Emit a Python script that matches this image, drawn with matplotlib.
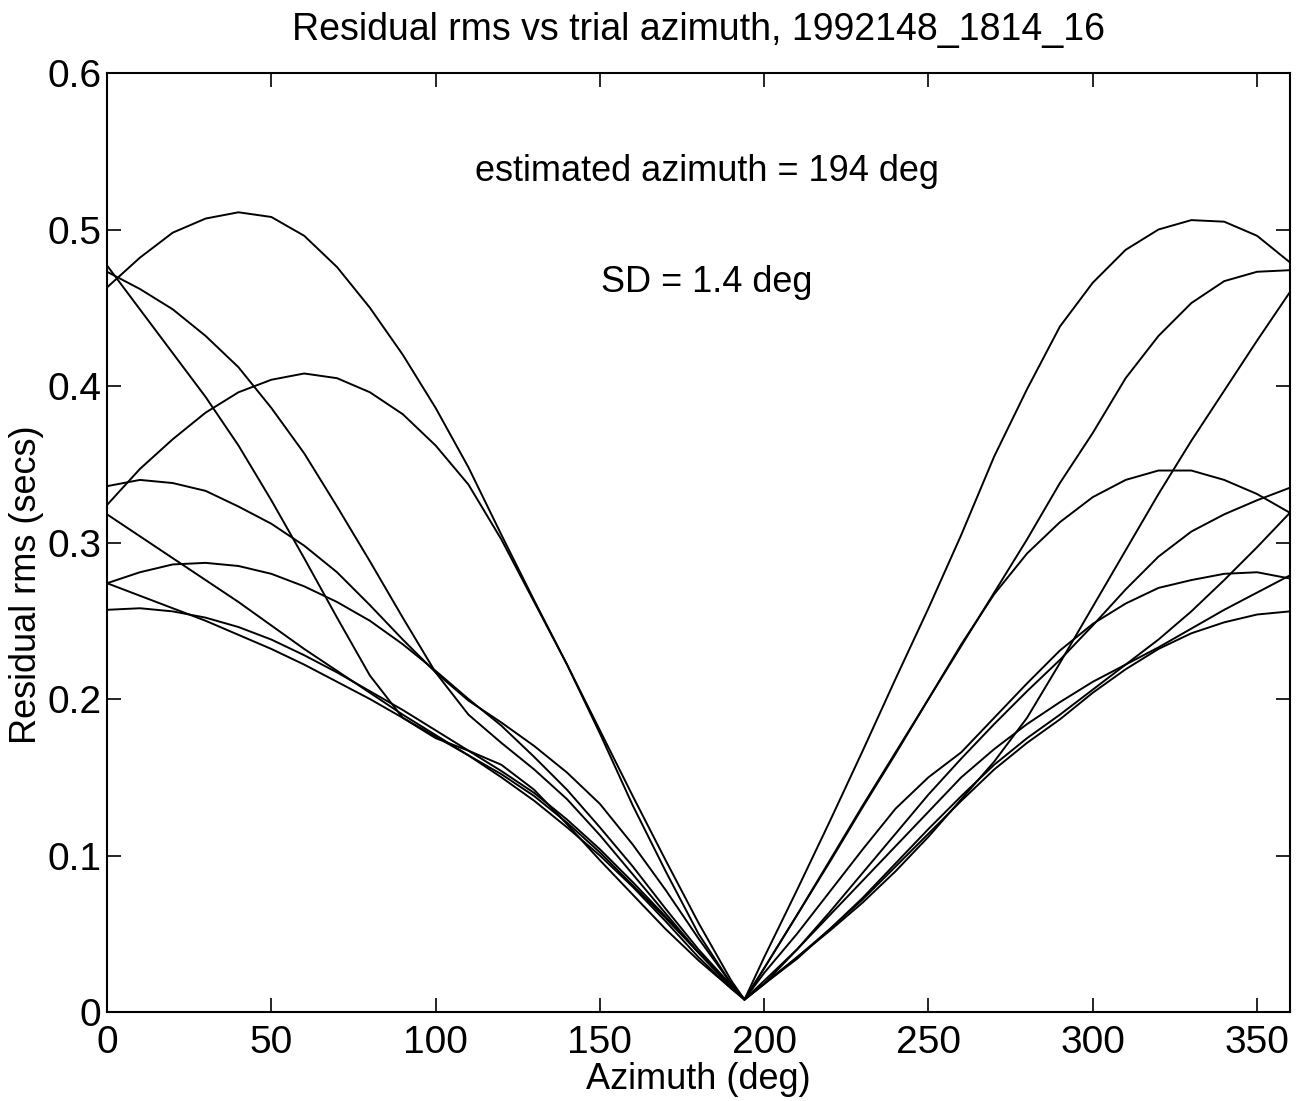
import numpy as np
import matplotlib
matplotlib.use("Agg")
import matplotlib.pyplot as plt

plt.rcParams['font.family'] = ['Liberation Sans', 'DejaVu Sans']

azimuth = [0, 10, 20, 30, 40, 50, 60, 70, 80, 90, 100, 110, 120, 130, 140, 150, 160, 170, 180, 190, 194,
           200, 210, 220, 230, 240, 250, 260, 270, 280, 290, 300, 310, 320, 330, 340, 350, 360]

curve1 = [0.463, 0.482, 0.498, 0.507, 0.511, 0.508, 0.496, 0.476, 0.450, 0.420, 0.386, 0.348, 0.305, 0.263,
          0.222, 0.180, 0.138, 0.097, 0.057, 0.020, 0.008,
          0.018, 0.035, 0.052, 0.070, 0.090, 0.112, 0.136, 0.160, 0.188, 0.223, 0.259, 0.295, 0.331,
          0.365, 0.397, 0.429, 0.460]
curve2 = [0.477, 0.449, 0.421, 0.393, 0.362, 0.327, 0.290, 0.252, 0.215, 0.188, 0.175, 0.167, 0.158, 0.142,
          0.120, 0.097, 0.075, 0.053, 0.033, 0.015, 0.008,
          0.035, 0.078, 0.122, 0.167, 0.213, 0.258, 0.305, 0.355, 0.398, 0.438, 0.466, 0.487, 0.500,
          0.506, 0.505, 0.496, 0.479]
curve3 = [0.473, 0.462, 0.449, 0.432, 0.412, 0.386, 0.357, 0.323, 0.288, 0.252, 0.217, 0.190, 0.172, 0.155,
          0.136, 0.113, 0.088, 0.063, 0.038, 0.017, 0.008,
          0.028, 0.062, 0.097, 0.132, 0.166, 0.200, 0.234, 0.268, 0.302, 0.338, 0.370, 0.405, 0.432,
          0.453, 0.467, 0.473, 0.474]
curve4 = [0.324, 0.347, 0.366, 0.383, 0.396, 0.404, 0.408, 0.405, 0.396, 0.382, 0.362, 0.337, 0.302, 0.262,
          0.222, 0.178, 0.132, 0.090, 0.050, 0.018, 0.008,
          0.018, 0.034, 0.053, 0.073, 0.095, 0.117, 0.138, 0.158, 0.175, 0.190, 0.206, 0.222, 0.238,
          0.256, 0.276, 0.297, 0.319]
curve5 = [0.336, 0.340, 0.338, 0.333, 0.323, 0.312, 0.298, 0.281, 0.260, 0.238, 0.217, 0.199, 0.185, 0.170,
          0.153, 0.133, 0.107, 0.078, 0.047, 0.018, 0.008,
          0.018, 0.040, 0.064, 0.089, 0.114, 0.139, 0.162, 0.184, 0.205, 0.225, 0.247, 0.270, 0.291,
          0.307, 0.318, 0.327, 0.335]
curve6 = [0.318, 0.304, 0.290, 0.276, 0.262, 0.247, 0.232, 0.218, 0.204, 0.190, 0.177, 0.164, 0.150, 0.135,
          0.118, 0.100, 0.080, 0.058, 0.035, 0.015, 0.008,
          0.028, 0.062, 0.096, 0.131, 0.165, 0.200, 0.235, 0.267, 0.293, 0.313, 0.329, 0.340, 0.346,
          0.346, 0.340, 0.331, 0.319]
curve7 = [0.274, 0.281, 0.286, 0.287, 0.285, 0.280, 0.272, 0.262, 0.250, 0.235, 0.218, 0.200, 0.183, 0.163,
          0.142, 0.118, 0.093, 0.066, 0.040, 0.017, 0.008,
          0.020, 0.040, 0.062, 0.084, 0.106, 0.128, 0.150, 0.168, 0.184, 0.198, 0.211, 0.222, 0.233,
          0.245, 0.257, 0.268, 0.279]
curve8 = [0.274, 0.266, 0.258, 0.250, 0.241, 0.232, 0.222, 0.211, 0.200, 0.188, 0.176, 0.164, 0.152, 0.138,
          0.121, 0.102, 0.081, 0.060, 0.038, 0.016, 0.008,
          0.025, 0.050, 0.077, 0.104, 0.130, 0.150, 0.166, 0.188, 0.210, 0.231, 0.248, 0.261, 0.271,
          0.276, 0.280, 0.281, 0.277]
curve9 = [0.257, 0.258, 0.256, 0.252, 0.246, 0.238, 0.228, 0.217, 0.205, 0.193, 0.180, 0.167, 0.154, 0.140,
          0.123, 0.104, 0.083, 0.061, 0.038, 0.016, 0.008,
          0.018, 0.035, 0.053, 0.072, 0.093, 0.114, 0.135, 0.155, 0.172, 0.187, 0.204, 0.219, 0.232,
          0.242, 0.249, 0.254, 0.256]

curves = [curve1, curve2, curve3, curve4, curve5, curve6, curve7, curve8, curve9]

xticks = [0, 50, 100, 150, 200, 250, 300, 350]
yticks = [0, 0.1, 0.2, 0.3, 0.4, 0.5, 0.6]
ytick_labels = ['0', '0.1', '0.2', '0.3', '0.4', '0.5', '0.6']

fig = plt.figure(figsize=(12.99, 11.01), dpi=100)
ax = fig.add_axes([0.0824, 0.0808, 0.9106, 0.8529])

for c in curves:
    ax.plot(azimuth, c, color='black', lw=1.4)

ax.set_xlim(0, 360)
ax.set_ylim(0, 0.6)
ax.set_xticks(xticks)
ax.set_yticks(yticks)
ax.set_yticklabels(ytick_labels)
ax.tick_params(direction='in', length=10, width=1.2, labelsize=28,
               top=True, right=True)
ax.tick_params(axis='x', pad=9)
ax.tick_params(axis='y', pad=4)
for s in ax.spines.values():
    s.set_linewidth(1.5)

ax.set_xlabel('Azimuth (deg)', fontsize=26, labelpad=1)
ax.set_ylabel('Residual rms (secs)', fontsize=26)
ax.yaxis.set_label_coords(-0.053, 0.455)
ax.set_title('Residual rms vs trial azimuth, 1992148_1814_16', fontsize=27, pad=24)

ax.text(182.5, 0.537, 'estimated azimuth = 194 deg', fontsize=26, ha='center', va='center')
ax.text(182.5, 0.466, 'SD = 1.4 deg', fontsize=26, ha='center', va='center')

fig.savefig('out.png', dpi=100)
